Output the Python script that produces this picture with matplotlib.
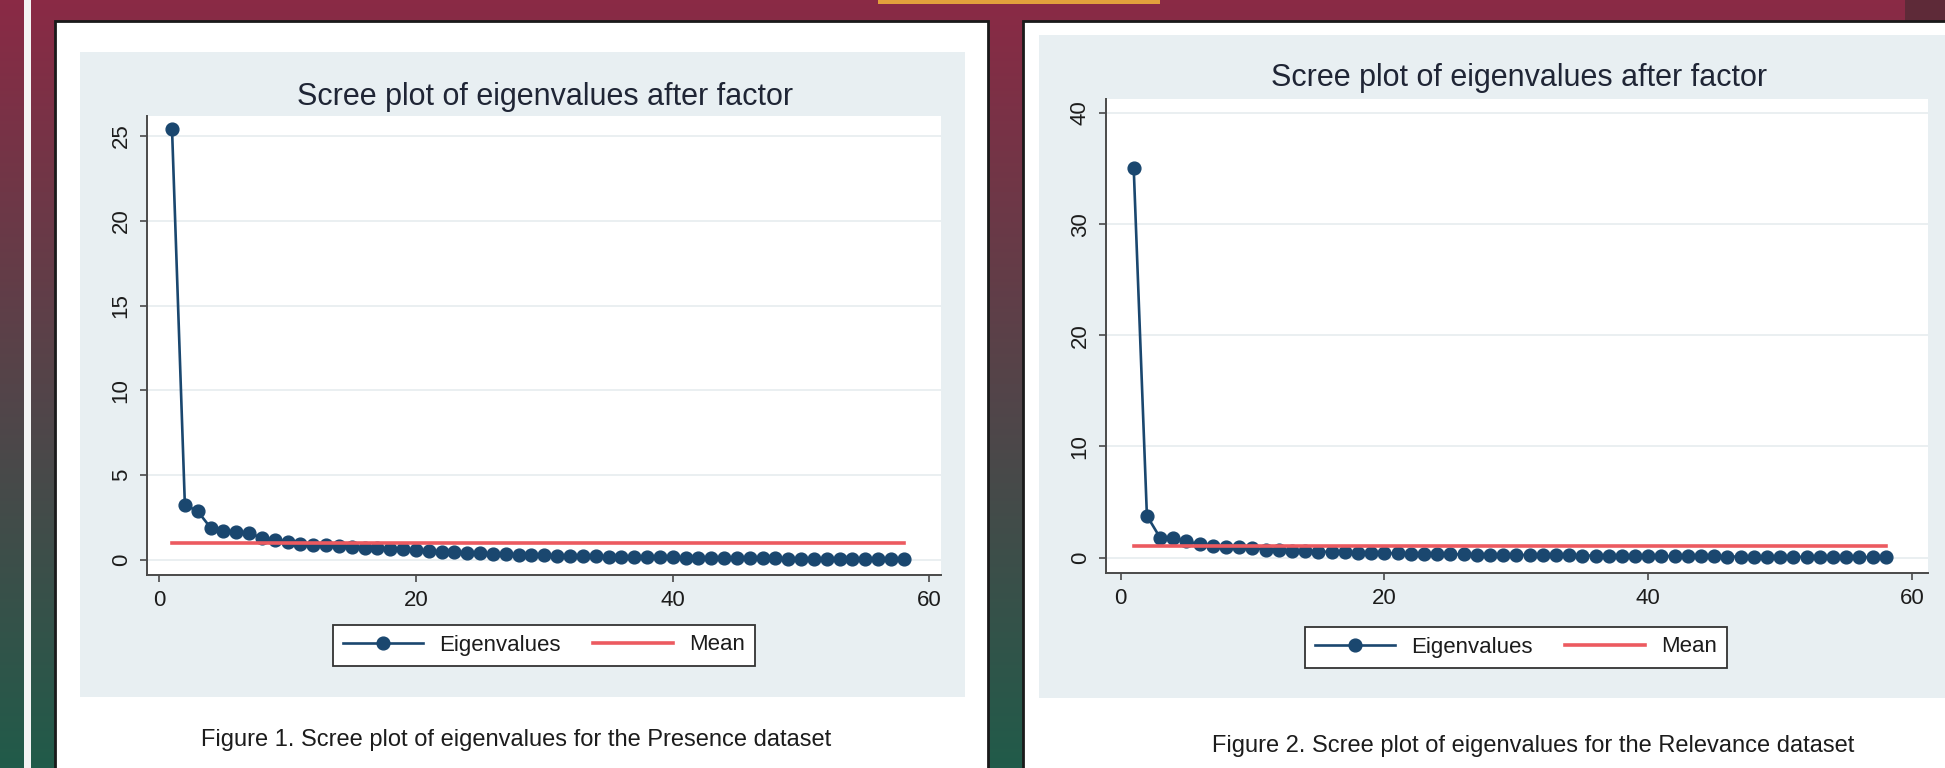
import numpy as np
import matplotlib
matplotlib.use("Agg")
import matplotlib.pyplot as plt
from matplotlib.patches import Rectangle
from matplotlib.lines import Line2D
from matplotlib.colors import LinearSegmentedColormap

plt.rcParams['font.family'] = ['Liberation Sans', 'DejaVu Sans']

# ---------------- data ----------------
factors = list(range(1, 59))
presence_eigen = [25.40, 3.25, 2.87, 1.90, 1.70, 1.66, 1.56, 1.32, 1.18, 1.08,
                  0.95, 0.89, 0.85, 0.80, 0.76, 0.73, 0.70, 0.67, 0.63, 0.59,
                  0.53, 0.49, 0.46, 0.43, 0.40, 0.36, 0.34, 0.31, 0.29, 0.27,
                  0.25, 0.24, 0.22, 0.21, 0.20, 0.19, 0.18, 0.17, 0.16, 0.15,
                  0.14, 0.13, 0.12, 0.11, 0.11, 0.10, 0.09, 0.09, 0.08, 0.07,
                  0.07, 0.06, 0.06, 0.05, 0.05, 0.04, 0.04, 0.03]
relevance_eigen = [35.05, 3.77, 1.78, 1.76, 1.45, 1.22, 1.02, 0.97, 0.95, 0.84,
                   0.72, 0.66, 0.62, 0.58, 0.54, 0.50, 0.47, 0.44, 0.42, 0.40,
                   0.38, 0.36, 0.34, 0.32, 0.30, 0.29, 0.27, 0.26, 0.25, 0.24,
                   0.22, 0.21, 0.20, 0.19, 0.18, 0.17, 0.16, 0.15, 0.14, 0.13,
                   0.13, 0.12, 0.11, 0.10, 0.10, 0.09, 0.08, 0.08, 0.07, 0.07,
                   0.06, 0.06, 0.05, 0.05, 0.04, 0.04, 0.03, 0.03]
mean_value = 1.0
x_ticks = [0, 20, 40, 60]
presence_yticks = [0, 5, 10, 15, 20, 25]
relevance_yticks = [0, 10, 20, 30, 40]
title_text = "Scree plot of eigenvalues after factor"
legend_labels = ["Eigenvalues", "Mean"]
captions = ["Figure 1. Scree plot of eigenvalues for the Presence dataset",
            "Figure 2. Scree plot of eigenvalues for the Relevance dataset"]

# ---------------- styling ----------------
W, H = 1945, 768
NAVY = "#1a476f"
RED = "#ec5a60"
GRAPH_BG = "#e8eff2"
TXT = "#1f2535"
MS = 9.2
LW = 1.9

fig = plt.figure(figsize=(W / 100, H / 100), dpi=100)
bg = fig.add_axes([0, 0, 1, 1])
bg.set_xlim(0, W)
bg.set_ylim(H, 0)
bg.axis("off")

cmap = LinearSegmentedColormap.from_list(
    "slide", [(0, "#8a2a45"), (0.5, "#544449"), (1, "#215b4a")])
grad = np.linspace(0, 1, 256).reshape(-1, 1)
bg.imshow(grad, cmap=cmap, extent=[0, W, H, 0], aspect="auto", zorder=0)

bg.add_patch(Rectangle((24, 0), 7, H, fc="#f4f4f4", ec="none", zorder=1))
bg.add_patch(Rectangle((878, 0), 282, 4, fc="#e3a03c", ec="none", zorder=1))
bg.add_patch(Rectangle((1905, 0), 40, 21, fc="#5e2a38", ec="none", zorder=1))

# white slide panels
bg.add_patch(Rectangle((55, 21), 933, 800, fc="white", ec="#1a1a1a", lw=2, zorder=2))
bg.add_patch(Rectangle((1023, 21), 960, 800, fc="white", ec="#1a1a1a", lw=2, zorder=2))
# stata graph regions
bg.add_patch(Rectangle((80, 52), 885, 645, fc=GRAPH_BG, ec="none", zorder=3))
bg.add_patch(Rectangle((1039, 35), 920, 663, fc=GRAPH_BG, ec="none", zorder=3))


def px_axes(x0, y0, x1, y1):
    return fig.add_axes([x0 / W, 1 - y1 / H, (x1 - x0) / W, (y1 - y0) / H])


panels = [
    dict(box=(147, 116, 941, 575), xlim=(-0.95, 60.9), ylim=(-0.89, 26.18),
         yticks=presence_yticks, data=presence_eigen,
         title_xy=(545, 97), legend_xy=(544, 645), caption=captions[0],
         caption_xy=(516, 740)),
    dict(box=(1106, 99, 1928, 573), xlim=(-1.1, 61.2), ylim=(-1.39, 41.26),
         yticks=relevance_yticks, data=relevance_eigen,
         title_xy=(1519, 78), legend_xy=(1516, 647), caption=captions[1],
         caption_xy=(1533, 746)),
]

for p in panels:
    ax = px_axes(*p["box"])
    ax.set_facecolor("white")
    ax.set_xlim(*p["xlim"])
    ax.set_ylim(*p["ylim"])
    for s in ["top", "right"]:
        ax.spines[s].set_visible(False)
    for s in ["left", "bottom"]:
        ax.spines[s].set_color("#4a4a4a")
        ax.spines[s].set_linewidth(1.4)
    ax.set_xticks(x_ticks)
    ax.set_yticks(p["yticks"])
    ax.set_yticklabels([str(v) for v in p["yticks"]], rotation=90, va="center")
    ax.tick_params(axis="both", direction="out", length=5, width=1.2,
                   color="#4a4a4a", labelsize=16, labelcolor="#1c1c1c", pad=6)
    for yv in p["yticks"]:
        ax.axhline(yv, color="#e6ecef", lw=1.2, zorder=0)
    ax.plot(factors, p["data"], color=NAVY, lw=LW, marker="o", ms=MS,
            mfc=NAVY, mec=NAVY, zorder=3)
    ax.plot([factors[0], factors[-1]], [mean_value, mean_value], color=RED,
            lw=2.6, zorder=4)

    handles = [Line2D([], [], color=NAVY, lw=LW, marker="o", ms=MS,
                      mfc=NAVY, mec=NAVY),
               Line2D([], [], color=RED, lw=2.6)]
    leg = ax.legend(handles, legend_labels, loc="center",
                    bbox_to_anchor=(p["legend_xy"][0] / W, 1 - p["legend_xy"][1] / H),
                    bbox_transform=fig.transFigure, ncol=2, fontsize=16,
                    frameon=True, fancybox=False, framealpha=1,
                    edgecolor="#333333", handlelength=3.6, handletextpad=0.7,
                    columnspacing=1.5, borderpad=0.45)
    leg.get_frame().set_linewidth(1.3)
    for t in leg.get_texts():
        t.set_color("#1c1c1c")

    bg.text(*p["title_xy"], title_text, ha="center", va="center",
            fontsize=22, color=TXT, zorder=5)
    bg.text(*p["caption_xy"], p["caption"], ha="center", va="center",
            fontsize=17, color="#1c1c1c", zorder=5)

fig.savefig("out.png", dpi=100)
